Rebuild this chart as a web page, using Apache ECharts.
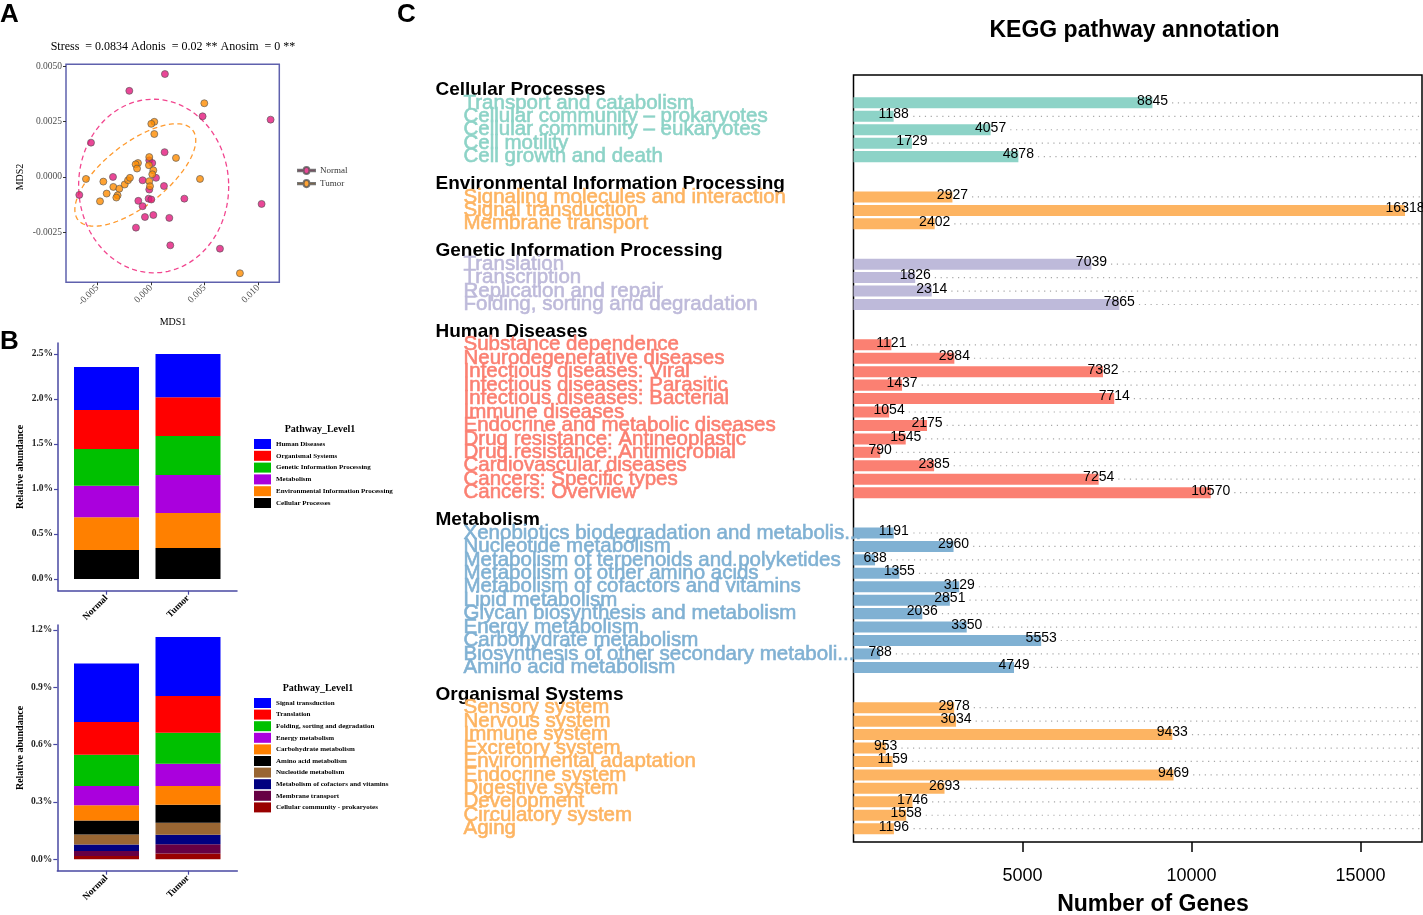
<!DOCTYPE html>
<html><head><meta charset="utf-8">
<script src="https://cdn.jsdelivr.net/npm/echarts@6/dist/echarts.min.js"></script>
<style>html,body{margin:0;padding:0;background:#fff}#c{width:1423px;height:915px}</style>
</head><body><div id="c"></div>
<script>
// ---------- Panel A: NMDS ----------
const normalPts = [[0.00130,0.00465],[-0.00202,0.00389],[0.01115,0.00259],[0.01031,-0.00122],[0.00180,-0.00309],[-0.00140,-0.00229],[0.00643,-0.00324],[0.00481,0.00274],[-0.00559,0.00155],[0.00127,0.00112],[-0.00016,0.00075],[0.00012,0.00063],[-0.00354,0.00000],[-0.00078,-0.00015],[0.00047,-0.00004],[0.00121,-0.00041],[-0.00016,-0.00057],[-0.00668,-0.00081],[-0.00118,-0.00108],[-0.00022,-0.00098],[0.00003,-0.00102],[0.00311,-0.00098],[-0.00078,-0.00132],[-0.00056,-0.00181],[0.00022,-0.00172],[0.00171,-0.00185]];
const tumorPts = [[0.00497,0.00333],[0.00829,-0.00435],[0.00031,0.00249],[0.00003,0.00240],[0.00031,0.00194],[0.00233,0.00086],[-0.00016,0.00090],[-0.00121,0.00063],[-0.00143,0.00057],[-0.00130,0.00038],[-0.00019,0.00053],[0.00022,0.00030],[0.00012,0.00012],[-0.00016,-0.00019],[-0.00009,-0.00042],[-0.00606,-0.00009],[-0.00444,-0.00021],[-0.00351,-0.00045],[-0.00295,-0.00053],[-0.00245,-0.00034],[-0.00214,-0.00015],[-0.00196,-0.00004],[-0.00413,-0.00075],[-0.00311,-0.00083],[-0.00323,-0.00093],[-0.00475,-0.00110],[0.00457,-0.00009]];
// ellipse: [centerX, centerY, axis1X, axis1Y, axis2X, axis2Y] in data units
const ellipseNormal = [0.00025,-0.00041, 0.00699,0.00012, -0.00025,0.00392];
const ellipseTumor  = [-0.00146,0.00009, 0.00534,0.00203, 0.00180,-0.00111];
const mdsXTicks = [-0.005, 0, 0.005, 0.010];
const mdsYTicks = [-0.0025, 0, 0.0025, 0.0050];

// ---------- Panel B: relative abundance ----------
const bCats = ['Normal','Tumor'];
const l1Names = ['Cellular Processes','Environmental Information Processing','Metabolism','Genetic Information Processing','Organismal Systems','Human Diseases'];
const l1Normal = [0.322,0.363,0.352,0.407,0.434,0.478];
const l1Tumor  = [0.344,0.389,0.423,0.433,0.430,0.481];
const l1Ticks = [0,0.5,1.0,1.5,2.0,2.5];
const l2Names = ['Cellular community - prokaryotes','Membrane transport','Metabolism of cofactors and vitamins','Nucleotide metabolism','Amino acid metabolism','Carbohydrate metabolism','Energy metabolism','Folding, sorting and degradation','Translation','Signal transduction'];
const l2Normal = [0.017,0.026,0.035,0.052,0.073,0.080,0.101,0.163,0.172,0.306];
const l2Tumor  = [0.030,0.049,0.049,0.063,0.094,0.098,0.117,0.162,0.192,0.309];
const l2Ticks = [0,0.3,0.6,0.9,1.2];

// ---------- Panel C: KEGG annotation ----------
const kGroups = ['Cellular Processes','Environmental Information Processing','Genetic Information Processing','Human Diseases','Metabolism','Organismal Systems'];
const cellularNames = ['Transport and catabolism','Cellular community – prokaryotes','Cellular community – eukaryotes','Cell motility','Cell growth and death'];
const cellularCounts = [8845,1188,4057,1729,4878];
const envNames = ['Signaling molecules and interaction','Signal transduction','Membrane transport'];
const envCounts = [2927,16318,2402];
const geneticNames = ['Translation','Transcription','Replication and repair','Folding, sorting and degradation'];
const geneticCounts = [7039,1826,2314,7865];
const humanNames = ['Substance dependence','Neurodegenerative diseases','Infectious diseases: Viral','Infectious diseases: Parasitic','Infectious diseases: Bacterial','Immune diseases','Endocrine and metabolic diseases','Drug resistance: Antineoplastic','Drug resistance: Antimicrobial','Cardiovascular diseases','Cancers: Specific types','Cancers: Overview'];
const humanCounts = [1121,2984,7382,1437,7714,1054,2175,1545,790,2385,7254,10570];
const metabNames = ['Xenobiotics biodegradation and metabolism','Nucleotide metabolism','Metabolism of terpenoids and polyketides','Metabolism of other amino acids','Metabolism of cofactors and vitamins','Lipid metabolism','Glycan biosynthesis and metabolism','Energy metabolism','Carbohydrate metabolism','Biosynthesis of other secondary metabolites','Amino acid metabolism'];
const metabCounts = [1191,2960,638,1355,3129,2851,2036,3350,5553,788,4749];
const organNames = ['Sensory system','Nervous system','Immune system','Excretory system','Environmental adaptation','Endocrine system','Digestive system','Development','Circulatory system','Aging'];
const organCounts = [2978,3034,9433,953,1159,9469,2693,1746,1558,1196];
const geneTicks = [5000,10000,15000];
const kColors = ['#8DD3C7','#FDB462','#BEBADA','#FB8072','#80B1D3','#FDB462'];

const SANS = '"Liberation Sans", Arial, Helvetica, sans-serif';
const SERIF = '"Liberation Serif", "Times New Roman", serif';
const X_MAX = 16820;

const groupNames = [cellularNames, envNames, geneticNames, humanNames, metabNames, organNames];
const groupCounts = [cellularCounts, envCounts, geneticCounts, humanCounts, metabCounts, organCounts];
const rows = [];
kGroups.forEach((g, gi) => {
  rows.push({type:'h', name:g});
  groupNames[gi].forEach((n, j) => rows.push({type:'i', name:n, v:groupCounts[gi][j], g:gi}));
  if (gi < kGroups.length - 1) rows.push({type:'b'});
});
const rowKeys = rows.map((r, i) => 'row' + i);
const barData = rows.map(r => r.type === 'i' ? {value:r.v, itemStyle:{color:kColors[r.g]}} : '-');
const dotData = [];
rows.forEach((r, i) => { if (r.type === 'i') dotData.push([r.v, i]); });

const rich = {h:{fontFamily:SANS, fontSize:19, fontWeight:'bold', color:'#000', lineHeight:20}};
kColors.forEach((c, i) => { rich['c'+i] = {fontFamily:SANS, fontSize:20.5, color:c, textBorderColor:c, textBorderWidth:0.6, padding:[0,0,0,28], lineHeight:20}; });
function trunc(s){ return s.length > 40 ? s.slice(0,40) + '...' : s; }

function ellipseRender(e, color){
  return function(params, api){
    const pts = [];
    for (let k = 0; k <= 120; k++) {
      const t = k / 120 * Math.PI * 2;
      const c = Math.cos(t), s = Math.sin(t);
      pts.push(api.coord([e[0] + c*e[2] + s*e[4], e[1] + c*e[3] + s*e[5]]));
    }
    return {type:'polyline', shape:{points:pts}, style:{fill:'none', stroke:color, lineWidth:1.3, lineDash:[5,3.5]}};
  };
}

const series = [];
series.push({type:'custom', name:'ellN', xAxisIndex:0, yAxisIndex:0, data:[[0,0]], renderItem:ellipseRender(ellipseNormal,'#F2468F'), silent:true, z:1});
series.push({type:'custom', name:'ellT', xAxisIndex:0, yAxisIndex:0, data:[[0,0]], renderItem:ellipseRender(ellipseTumor,'#FF9A2E'), silent:true, z:1});
series.push({type:'scatter', name:'Normal', xAxisIndex:0, yAxisIndex:0, data:normalPts, symbolSize:7, itemStyle:{color:'#E4197D', borderColor:'#555', borderWidth:0.8}, z:3});
series.push({type:'scatter', name:'Tumor', xAxisIndex:0, yAxisIndex:0, data:tumorPts, symbolSize:7, itemStyle:{color:'#FF8C00', borderColor:'#555', borderWidth:0.8}, z:3});

const l1Colors = ['#000000','#FF8000','#AA00DD','#00C000','#FF0000','#0000FF'];
l1Names.forEach((n, i) => series.push({type:'bar', name:n, stack:'l1', xAxisIndex:2, yAxisIndex:2, barWidth:65, data:[l1Normal[i], l1Tumor[i]], itemStyle:{color:l1Colors[i]}}));
const l2Colors = ['#990000','#660044','#000080','#996633','#000000','#FF8000','#AA00DD','#00C000','#FF0000','#0000FF'];
l2Names.forEach((n, i) => series.push({type:'bar', name:n, stack:'l2', xAxisIndex:4, yAxisIndex:4, barWidth:65, data:[l2Normal[i], l2Tumor[i]], itemStyle:{color:l2Colors[i]}}));

series.push({type:'custom', name:'dots', xAxisIndex:6, yAxisIndex:6, data:dotData, silent:true, z:1,
  renderItem:function(params, api){
    const v = api.value(0), idx = api.value(1);
    const p = api.coord([v, idx]);
    const e = api.coord([X_MAX, idx]);
    const start = p[0] + String(v).length * 3.9 + 4;
    return {type:'line', shape:{x1:start, y1:p[1], x2:e[0]-2, y2:p[1]}, style:{stroke:'#A8A8A8', lineWidth:1.2, lineDash:[1.2,4.6]}};
  }});
series.push({type:'bar', name:'KEGG', xAxisIndex:6, yAxisIndex:6, data:barData, barCategoryGap:'18%', z:2,
  label:{show:true, position:'right', distance:0, align:'center', offset:[0,-2], fontFamily:SANS, fontSize:14, color:'#000', formatter:p => String(p.value)}});

const blueAxis = '#4848A2';
const G = {containLabel:false, outerBoundsMode:'none'};
function bFrameX(gi){ return {gridIndex:gi, type:'value', min:0, max:1, axisLine:{show:true, onZero:false, lineStyle:{color:blueAxis, width:1.5}}, axisTick:{show:false}, axisLabel:{show:false}, splitLine:{show:false}}; }
function bFrameY(gi, mn, mx, ticks){ return {gridIndex:gi, type:'value', min:mn, max:mx, axisLine:{show:true, onZero:false, lineStyle:{color:blueAxis, width:1.5}},
  axisTick:{show:true, length:4, customValues:ticks, lineStyle:{color:blueAxis, width:1.2}},
  axisLabel:{customValues:ticks, margin:5, fontFamily:SERIF, fontWeight:'bold', fontSize:9.5, color:'#222', formatter:v => v.toFixed(1) + '%'},
  splitLine:{show:false}}; }
function bBarX(gi){ return {gridIndex:gi, type:'category', data:bCats, axisLine:{show:false, onZero:false},
  axisTick:{show:true, alignWithLabel:true, length:4, lineStyle:{color:blueAxis, width:1.2}},
  axisLabel:{rotate:45, margin:6, fontFamily:SERIF, fontWeight:'bold', fontSize:9.5, color:'#000'}}; }
function bBarY(gi, mn, mx){ return {gridIndex:gi, type:'value', min:mn, max:mx, show:false}; }

const option = {
  animation:false,
  backgroundColor:'#fff',
  grid:[
    Object.assign({left:66, top:64.3, width:213.3, height:218, show:true, borderColor:'#5F61AD', borderWidth:1.5, backgroundColor:'transparent'}, G),
    Object.assign({left:58, top:343, width:179, height:247.7}, G),
    Object.assign({left:65.75, top:343, width:163, height:247.7}, G),
    Object.assign({left:57.3, top:625, width:180, height:245.7}, G),
    Object.assign({left:65.75, top:625, width:163, height:245.7}, G),
    Object.assign({left:853.5, top:75, width:568.5, height:767, show:true, borderColor:'#000', borderWidth:1.5, backgroundColor:'transparent'}, G),
    Object.assign({left:853.5, top:82.7, width:568.5, height:752.7}, G)
  ],
  xAxis:[
    {gridIndex:0, type:'value', min:-0.00792, max:0.01196, axisLine:{show:false, onZero:false},
      axisTick:{show:true, length:3, customValues:mdsXTicks, lineStyle:{color:'#333'}},
      axisLabel:{customValues:mdsXTicks, rotate:45, margin:4, fontFamily:SERIF, fontSize:9.5, color:'#4d4d4d', formatter:v => v.toFixed(3)},
      splitLine:{show:false}},
    bFrameX(1), bBarX(2), bFrameX(3), bBarX(4),
    {gridIndex:5, type:'value', min:0, max:X_MAX, axisLine:{show:false, onZero:false},
      axisTick:{show:true, length:10, customValues:geneTicks, lineStyle:{color:'#000', width:1.5}},
      axisLabel:{customValues:geneTicks, margin:25, fontFamily:SANS, fontSize:18, color:'#000', formatter:v => String(v)},
      splitLine:{show:false}},
    {gridIndex:6, type:'value', min:0, max:X_MAX, show:false}
  ],
  yAxis:[
    {gridIndex:0, type:'value', min:-0.00476, max:0.00509, axisLine:{show:false, onZero:false},
      axisTick:{show:true, length:3, customValues:mdsYTicks, lineStyle:{color:'#333'}},
      axisLabel:{customValues:mdsYTicks, margin:4, fontFamily:SERIF, fontSize:9.5, color:'#4d4d4d', formatter:v => v.toFixed(4)},
      splitLine:{show:false}},
    bFrameY(1, -0.13, 2.622, l1Ticks), bBarY(2, -0.13, 2.622),
    bFrameY(3, -0.0597, 1.226, l2Ticks), bBarY(4, -0.0597, 1.226),
    {gridIndex:5, type:'value', min:0, max:1, show:false},
    {gridIndex:6, type:'category', data:rowKeys, inverse:true, axisLine:{show:false}, axisTick:{show:false}, splitLine:{show:false},
      axisLabel:{interval:0, align:'left', margin:418, fontFamily:SANS, rich:rich,
        formatter:function(val, idx){ const r = rows[idx]; if (!r || r.type === 'b') return ''; if (r.type === 'h') return '{h|' + r.name + '}'; return '{c' + r.g + '|' + trunc(r.name) + '}'; }}}
  ],
  legend:[
    {left:297, top:166, padding:0, orient:'vertical', data:['Normal','Tumor'], selectedMode:false,
      icon:'path://M0,7H8A4,4 0 1,1 16,7H24V9H16A4,4 0 1,1 8,9H0Z', itemWidth:17, itemHeight:8, itemGap:4,
      textStyle:{fontFamily:SERIF, fontSize:9, color:'#333'}},
    {left:254, top:439, padding:0, orient:'vertical', data:l1Names.slice().reverse(), selectedMode:false, icon:'rect',
      itemWidth:17, itemHeight:10, itemGap:1.8, textStyle:{fontFamily:SERIF, fontWeight:'bold', fontSize:7, color:'#000'}},
    {left:254, top:698, padding:0, orient:'vertical', data:l2Names.slice().reverse(), selectedMode:false, icon:'rect',
      itemWidth:17, itemHeight:10, itemGap:1.6, textStyle:{fontFamily:SERIF, fontWeight:'bold', fontSize:7, color:'#000'}}
  ],
  graphic:[
    {type:'text', x:0, y:15, style:{text:'A', font:'bold 26px ' + SANS, fill:'#000', align:'left', verticalAlign:'middle'}},
    {type:'text', x:0, y:342, style:{text:'B', font:'bold 26px ' + SANS, fill:'#000', align:'left', verticalAlign:'middle'}},
    {type:'text', x:397, y:15, style:{text:'C', font:'bold 26px ' + SANS, fill:'#000', align:'left', verticalAlign:'middle'}},
    {type:'text', x:173, y:47, style:{text:'Stress  = 0.0834 Adonis  = 0.02 ** Anosim  = 0 **', font:'12px ' + SERIF, fill:'#000', align:'center', verticalAlign:'middle'}},
    {type:'text', x:20, y:177, rotation:Math.PI/2, style:{text:'MDS2', font:'10px ' + SERIF, fill:'#000', align:'center', verticalAlign:'middle'}},
    {type:'text', x:173, y:322, style:{text:'MDS1', font:'10px ' + SERIF, fill:'#000', align:'center', verticalAlign:'middle'}},
    {type:'text', x:20, y:467, rotation:Math.PI/2, style:{text:'Relative abundance', font:'bold 10px ' + SERIF, fill:'#000', align:'center', verticalAlign:'middle'}},
    {type:'text', x:20, y:748, rotation:Math.PI/2, style:{text:'Relative abundance', font:'bold 10px ' + SERIF, fill:'#000', align:'center', verticalAlign:'middle'}},
    {type:'text', x:320, y:429, style:{text:'Pathway_Level1', font:'bold 10px ' + SERIF, fill:'#000', align:'center', verticalAlign:'middle'}},
    {type:'text', x:318, y:688, style:{text:'Pathway_Level1', font:'bold 10px ' + SERIF, fill:'#000', align:'center', verticalAlign:'middle'}},
    {type:'text', x:1134.5, y:31, style:{text:'KEGG pathway annotation', font:'bold 23px ' + SANS, fill:'#000', align:'center', verticalAlign:'middle'}},
    {type:'text', x:1153, y:905, style:{text:'Number of Genes', font:'bold 23px ' + SANS, fill:'#000', align:'center', verticalAlign:'middle'}}
  ],
  series:series
};
const chart = echarts.init(document.getElementById('c'), null, {renderer:'canvas'});
chart.setOption(option);
</script>
</body></html>
